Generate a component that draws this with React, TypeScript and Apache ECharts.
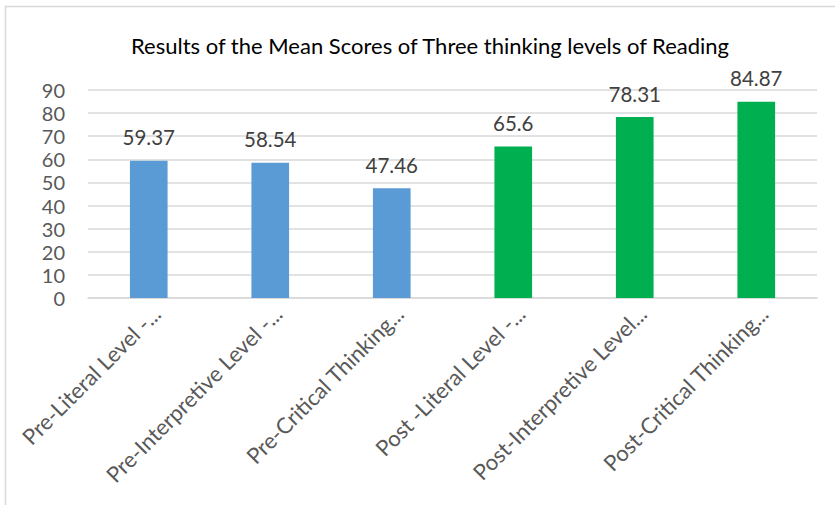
import React, { useEffect, useRef } from "react";
import * as echarts from "echarts";

const categories = [
  "Pre-Literal Level -...",
  "Pre-Interpretive Level -...",
  "Pre-Critical Thinking...",
  "Post -Literal Level -...",
  "Post-Interpretive Level...",
  "Post-Critical Thinking...",
];
const values = [59.37, 58.54, 47.46, 65.6, 78.31, 84.87];
const barColors = ["#5B9BD5", "#5B9BD5", "#5B9BD5", "#00B050", "#00B050", "#00B050"];
const titleText = "Results of the Mean Scores of Three thinking levels of Reading";

const FONT = "Lato, 'Open Sans', sans-serif";

export default function App() {
  const ref = useRef<HTMLDivElement>(null);
  useEffect(() => {
    document.body.style.margin = "0";
    const chart = echarts.init(ref.current!, null, { renderer: "svg" });
    chart.setOption({
      animation: false,
      backgroundColor: "#ffffff",
      title: {
        text: titleText,
        left: 425,
        textAlign: "center",
        top: 29,
        textStyle: { fontFamily: FONT, fontSize: 22, fontWeight: "normal", color: "#000000" },
      },
      graphic: [
        {
          type: "rect",
          shape: { x: 5.5, y: 6.5, width: 840, height: 520 },
          style: { fill: "none", stroke: "#D9D9D9", lineWidth: 1.5 },
          silent: true,
        },
      ],
      grid: { left: 88, right: 18, top: 90, bottom: 207 },
      xAxis: {
        type: "category",
        data: categories,
        axisLine: { lineStyle: { color: "#D9D9D9", width: 1.5 } },
        axisTick: { show: false },
        axisLabel: {
          rotate: 45,
          interval: 0,
          fontFamily: FONT,
          fontSize: 22,
          color: "#595959",
          margin: 4,
          verticalAlign: "top",
        },
      },
      yAxis: {
        type: "value",
        min: 0,
        max: 90,
        interval: 10,
        axisLine: { show: false },
        axisTick: { show: false },
        splitLine: { lineStyle: { color: "#D9D9D9", width: 1.5 } },
        axisLabel: { fontFamily: FONT, fontSize: 20, color: "#595959", margin: 23 },
      },
      series: [
        {
          type: "bar",
          barWidth: "31%",
          data: values.map((v, i) => ({ value: v, itemStyle: { color: barColors[i] } })),
          label: {
            show: true,
            position: "top",
            distance: 13,
            fontFamily: FONT,
            fontSize: 20.5,
            color: "#404040",
          },
        },
      ],
    });
    return () => chart.dispose();
  }, []);
  return <div ref={ref} style={{ width: 835, height: 505 }} />;
}
